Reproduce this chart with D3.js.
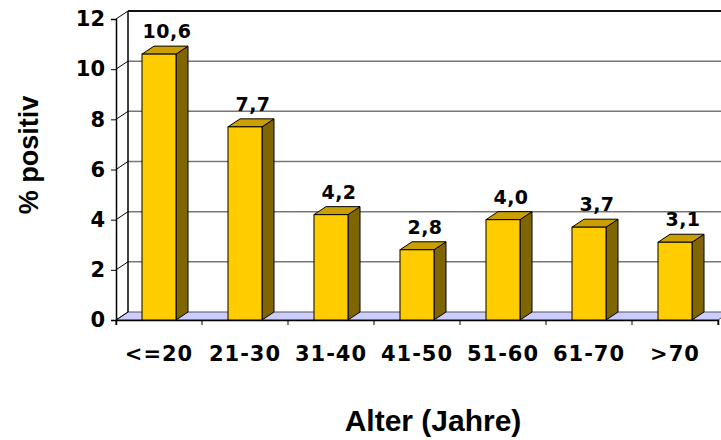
<!DOCTYPE html>
<html>
<head>
<meta charset="utf-8">
<script src="https://cdn.jsdelivr.net/npm/d3@7/dist/d3.min.js"></script>
<style>
  html, body { margin: 0; padding: 0; background: #fff; }
  svg { display: block; }
</style>
</head>
<body>
<script>
// Altersgruppen und Anteil positiver Befunde (%)
const categories = ["<=20", "21-30", "31-40", "41-50", "51-60", "61-70", ">70"];
const values = [10.6, 7.7, 4.2, 2.8, 4.0, 3.7, 3.1];
const valueLabels = ["10,6", "7,7", "4,2", "2,8", "4,0", "3,7", "3,1"];
const yTicks = [0, 2, 4, 6, 8, 10, 12];

const W = 721, H = 440;
const svg = d3.select("body").append("svg").attr("width", W).attr("height", H);

// 3D depth offset of the plot box
const DX = 12, DY = -8;
const x0 = 116, x1 = 718, yBase = 320, yTop = 19;

const x = d3.scaleBand().domain(categories).range([x0, x1]).padding(0);
const y = d3.scaleLinear().domain([0, 12]).range([yBase, yTop]);
const barW = 34;

// floor
svg.append("path")
  .attr("d", `M${x0},${yBase} L${x1},${yBase} L${x1 + DX},${yBase + DY} L${x0 + DX},${yBase + DY} Z`)
  .attr("fill", "#ccccff").attr("stroke", "#555").attr("stroke-width", 1);

// back wall gridlines
const grid = svg.append("g");
yTicks.forEach(t => {
  if (t === 0) return;
  grid.append("line")
    .attr("x1", x0 + DX).attr("x2", W + 20)
    .attr("y1", y(t) + DY).attr("y2", y(t) + DY)
    .attr("stroke", t === 12 ? "#111" : "#777")
    .attr("stroke-width", t === 12 ? 2 : 1.5);
});

// left wall edges
svg.append("line").attr("x1", x0 + DX).attr("x2", x0 + DX)
  .attr("y1", y(12) + DY).attr("y2", yBase + DY).attr("stroke", "#000").attr("stroke-width", 1.5);
yTicks.forEach(t => {
  svg.append("line")
    .attr("x1", x0).attr("y1", y(t))
    .attr("x2", x0 + DX).attr("y2", y(t) + DY)
    .attr("stroke", "#000").attr("stroke-width", 1);
});

// y axis
const yAxis = d3.axisLeft(y).tickValues(yTicks).tickSize(5).tickPadding(6).tickFormat(d3.format("d"));
const gy = svg.append("g").attr("transform", `translate(${x0},0)`).call(yAxis);
gy.select(".domain").attr("stroke", "#000").attr("stroke-width", 1.5);
gy.selectAll(".tick line").attr("stroke", "#000");
gy.selectAll(".tick text")
  .attr("font-family", "DejaVu Sans, sans-serif").attr("font-weight", "bold")
  .attr("font-size", 21).attr("fill", "#000");

// x axis
const xAxis = d3.axisBottom(x).tickSize(5).tickPadding(10).tickFormat("");
const gx = svg.append("g").attr("transform", `translate(0,${yBase})`).call(xAxis);
gx.select(".domain").attr("stroke", "#000").attr("stroke-width", 1.5);
// ticks at band boundaries
gx.selectAll(".tick").remove();
d3.range(categories.length + 1).forEach(i => {
  const xx = x0 + i * x.step();
  gx.append("line").attr("x1", xx).attr("x2", xx).attr("y1", 0).attr("y2", 5).attr("stroke", "#000");
});
svg.append("g").selectAll("text").data(categories).join("text")
  .attr("x", d => x(d) + x.bandwidth() / 2)
  .attr("y", 361)
  .attr("text-anchor", "middle")
  .attr("font-family", "DejaVu Sans, sans-serif").attr("font-weight", "bold")
  .attr("font-size", 21).attr("letter-spacing", 1).attr("fill", "#000")
  .text(d => d);

// bars
const bars = svg.append("g").selectAll("g").data(categories).join("g");
bars.each(function (c, i) {
  const g = d3.select(this);
  const left = x(c) + (x.bandwidth() - barW) / 2, right = left + barW;
  const top = y(values[i]);
  // side
  g.append("path")
    .attr("d", `M${right},${yBase} L${right + DX},${yBase + DY} L${right + DX},${top + DY} L${right},${top} Z`)
    .attr("fill", "#806600").attr("stroke", "#000").attr("stroke-width", 1).attr("stroke-linejoin", "round");
  // top
  g.append("path")
    .attr("d", `M${left},${top} L${right},${top} L${right + DX},${top + DY} L${left + DX},${top + DY} Z`)
    .attr("fill", "#cc9f00").attr("stroke", "#000").attr("stroke-width", 1).attr("stroke-linejoin", "round");
  // front
  g.append("rect")
    .attr("x", left).attr("y", top).attr("width", barW).attr("height", yBase - top)
    .attr("fill", "#ffcc00").attr("stroke", "#000").attr("stroke-width", 1);
  // value label
  g.append("text")
    .attr("x", x(c) + x.bandwidth() / 2 + 8)
    .attr("y", top + DY - 8)
    .attr("text-anchor", "middle")
    .attr("font-family", "DejaVu Sans, sans-serif").attr("font-weight", "bold")
    .attr("font-size", 19).attr("letter-spacing", 0.5).attr("fill", "#000")
    .text(valueLabels[i]);
});

// axis titles
svg.append("text")
  .attr("x", 433).attr("y", 431)
  .attr("text-anchor", "middle")
  .attr("font-family", "Liberation Sans, Arial, sans-serif").attr("font-weight", "bold")
  .attr("font-size", 30).attr("fill", "#000")
  .text("Alter (Jahre)");

svg.append("text")
  .attr("transform", "translate(38,155) rotate(-90)")
  .attr("text-anchor", "middle")
  .attr("font-family", "Liberation Sans, Arial, sans-serif").attr("font-weight", "bold")
  .attr("font-size", 27).attr("fill", "#000")
  .text("% positiv");
</script>
</body>
</html>
